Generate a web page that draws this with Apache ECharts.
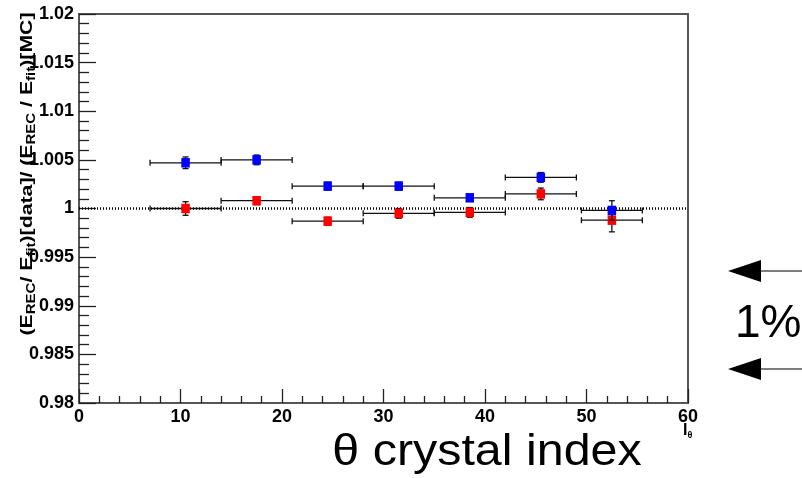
<!DOCTYPE html>
<html>
<head>
<meta charset="utf-8">
<script src="https://cdn.jsdelivr.net/npm/echarts@6/dist/echarts.min.js"></script>
<style>
  html, body { margin: 0; padding: 0; background: #ffffff; }
  #chart { width: 802px; height: 478px; }
</style>
</head>
<body>
<div id="chart"></div>
<script>
// Bin centres and bin edges along the theta crystal index
const thetaIndex = [10.5, 17.5, 24.5, 31.5, 38.5, 45.5, 52.5];
const binLow = [7, 14, 21, 28, 35, 42, 49.5];
const binHigh = [14, 21, 28, 35, 42, 49, 55.5];

// Double ratio (data / MC) and its uncertainty, two samples
const ratioBlue = [1.0047, 1.0050, 1.0023, 1.0023, 1.0011, 1.0032, 0.9998];
const errBlue = [0.0006, 0.0005, 0.0004, 0.0004, 0.0003, 0.0005, 0.0010];
const ratioRed = [1.0000, 1.0008, 0.9987, 0.9995, 0.9996, 1.0015, 0.9988];
const errRed = [0.0007, 0.0004, 0.0004, 0.0005, 0.0005, 0.0006, 0.0012];

// Unity reference line
const unity = 1;

// Axis ranges and steps
const xRange = [0, 60];
const xStep = 10;
const yRange = [0.98, 1.02];
const yStep = 0.005;

function rows(vals, errs) {
  return thetaIndex.map((x, i) => [x, vals[i], binLow[i], binHigh[i], errs[i]]);
}

function makeRenderItem(color) {
  return function (params, api) {
    const x = api.value(0), y = api.value(1);
    const lo = api.value(2), hi = api.value(3), e = api.value(4);
    const c = api.coord([x, y]);
    const l = api.coord([lo, y]);
    const h = api.coord([hi, y]);
    const t = api.coord([x, y + e]);
    const b = api.coord([x, y - e]);
    const cap = 3;
    const ls = { stroke: '#111', lineWidth: 1.3 };
    const line = (x1, y1, x2, y2) => ({
      type: 'line', shape: { x1, y1, x2, y2 }, style: ls
    });
    const w = 8.5, hgt = 9.5;
    return {
      type: 'group',
      children: [
        line(l[0], c[1], h[0], c[1]),
        line(l[0], c[1] - cap, l[0], c[1] + cap),
        line(h[0], c[1] - cap, h[0], c[1] + cap),
        line(c[0], t[1], c[0], b[1]),
        line(c[0] - cap, t[1], c[0] + cap, t[1]),
        line(c[0] - cap, b[1], c[0] + cap, b[1]),
        {
          type: 'rect',
          shape: { x: c[0] - w / 2, y: c[1] - hgt / 2, width: w, height: hgt },
          style: { fill: color }
        }
      ]
    };
  };
}

const FAMILY = 'Liberation Sans, Arial, sans-serif';
const labelFont = { fontFamily: FAMILY, fontWeight: 'bold', fontSize: 18, color: '#000' };

const chart = echarts.init(document.getElementById('chart'), null, { renderer: 'canvas' });

chart.setOption({
  animation: false,
  backgroundColor: '#ffffff',
  grid: {
    left: 79, right: 114, top: 14, bottom: 75,
    show: true, borderColor: '#555', borderWidth: 2, backgroundColor: 'transparent'
  },
  xAxis: {
    type: 'value', min: xRange[0], max: xRange[1], interval: xStep,
    axisLine: { show: true, onZero: false, lineStyle: { color: '#555', width: 2 } },
    axisTick: { show: true, inside: true, length: 14, lineStyle: { color: '#222', width: 1.3 } },
    minorTick: { show: true, splitNumber: 5, length: 7, lineStyle: { color: '#222', width: 1.3 } },
    splitLine: { show: false },
    axisLabel: Object.assign({ margin: 5 }, labelFont)
  },
  yAxis: {
    type: 'value', min: yRange[0], max: yRange[1], interval: yStep,
    axisLine: { show: true, onZero: false, lineStyle: { color: '#555', width: 2 } },
    axisTick: { show: true, inside: true, length: 17, lineStyle: { color: '#222', width: 1.3 } },
    minorTick: { show: true, splitNumber: 5, length: 10, lineStyle: { color: '#222', width: 1.3 } },
    splitLine: { show: false },
    axisLabel: Object.assign({
      margin: 5,
      formatter: v => String(parseFloat(v.toFixed(3)))
    }, labelFont)
  },
  series: [
    {
      type: 'line',
      data: [[xRange[0], unity], [xRange[1], unity]],
      symbol: 'none',
      lineStyle: { color: '#000', width: 2.5, type: [1, 2] },
      z: 1
    },
    {
      type: 'custom',
      renderItem: makeRenderItem('#ff0000'),
      data: rows(ratioRed, errRed),
      encode: { x: 0, y: 1 },
      z: 3
    },
    {
      type: 'custom',
      renderItem: makeRenderItem('#0000ff'),
      data: rows(ratioBlue, errBlue),
      encode: { x: 0, y: 1 },
      z: 4
    }
  ],
  graphic: [
    {
      type: 'text',
      x: 27, y: 174, rotation: Math.PI / 2, scaleX: 1.25,
      style: {
        text: '(E{s|REC}/ E{s|fit})[data]/ (E{s|REC} / E{s|fit})[MC]',
        fill: '#000',
        fontFamily: FAMILY, fontWeight: 'bold', fontSize: 17,
        align: 'center', verticalAlign: 'middle',
        lineHeight: 22,
        rich: {
          s: { fontSize: 12, fontWeight: 'bold', verticalAlign: 'bottom', lineHeight: 12, fontFamily: FAMILY }
        }
      },
      z: 10
    },
    {
      type: 'text',
      x: 683, y: 431,
      style: {
        text: 'I{s|θ}',
        fill: '#000',
        fontFamily: FAMILY, fontWeight: 'bold', fontSize: 16,
        verticalAlign: 'middle',
        lineHeight: 18,
        rich: {
          s: { fontSize: 9, fontWeight: 'bold', verticalAlign: 'bottom', lineHeight: 9, fontFamily: FAMILY }
        }
      }
    },
    {
      type: 'text',
      x: 487, y: 453, scaleX: 1.1,
      style: {
        text: 'θ crystal index',
        fill: '#000',
        font: '44px Liberation Sans, Arial, sans-serif',
        align: 'center', verticalAlign: 'middle'
      }
    },
    {
      type: 'text',
      x: 735, y: 324,
      style: {
        text: '1%',
        fill: '#000',
        font: '46px Liberation Sans, Arial, sans-serif',
        align: 'left', verticalAlign: 'middle'
      }
    },
    // arrows pointing at the plot
    { type: 'line', shape: { x1: 755, y1: 271, x2: 802, y2: 271 }, style: { stroke: '#000', lineWidth: 1.2 } },
    { type: 'polygon', shape: { points: [[728, 271], [761, 260], [761, 282]] }, style: { fill: '#000' } },
    { type: 'line', shape: { x1: 755, y1: 369, x2: 802, y2: 369 }, style: { stroke: '#000', lineWidth: 1.2 } },
    { type: 'polygon', shape: { points: [[728, 369], [761, 358], [761, 380]] }, style: { fill: '#000' } }
  ]
});
</script>
</body>
</html>
